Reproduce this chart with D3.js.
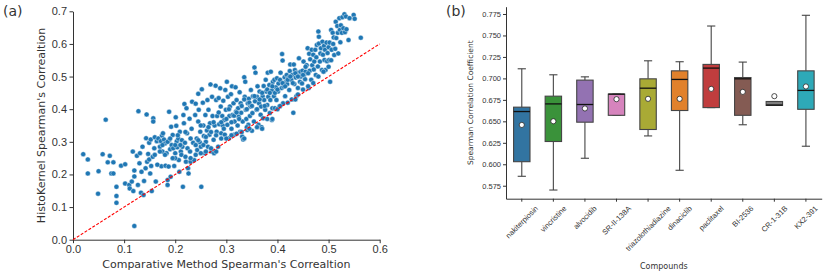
<!DOCTYPE html>
<html>
<head>
<meta charset="utf-8">
<script src="https://cdn.jsdelivr.net/npm/d3@7"></script>
<style>
  body { margin: 0; background: #fff; }
  svg { font-family: "DejaVu Sans", sans-serif; }
</style>
</head>
<body>
<svg id="chart" width="830" height="274"></svg>
<script>
// (a) each pair = [comparative method rho, histokernel rho]
const scatterPoints = [
  [0.020,0.262],[0.029,0.246],[0.029,0.203],[0.050,0.210],[0.049,0.141],[0.058,0.262],[0.064,0.368],[0.068,0.237],
  [0.072,0.257],[0.075,0.203],[0.079,0.203],[0.079,0.237],[0.085,0.162],[0.085,0.134],[0.085,0.113],[0.094,0.227],
  [0.102,0.231],[0.102,0.172],[0.110,0.168],[0.111,0.157],[0.115,0.178],[0.117,0.270],[0.118,0.149],[0.120,0.042],
  [0.120,0.212],[0.120,0.194],[0.125,0.257],[0.128,0.394],[0.127,0.168],[0.130,0.234],[0.131,0.265],[0.133,0.144],
  [0.134,0.208],[0.136,0.285],[0.138,0.137],[0.139,0.180],[0.142,0.219],[0.143,0.311],[0.144,0.384],[0.145,0.239],
  [0.147,0.263],[0.149,0.246],[0.149,0.297],[0.151,0.203],[0.152,0.307],[0.153,0.226],[0.154,0.149],[0.156,0.254],
  [0.157,0.372],[0.157,0.362],[0.159,0.280],[0.160,0.314],[0.162,0.178],[0.164,0.302],[0.167,0.310],[0.170,0.285],
  [0.172,0.302],[0.173,0.225],[0.174,0.319],[0.175,0.270],[0.176,0.326],[0.178,0.307],[0.180,0.295],[0.181,0.227],
  [0.183,0.265],[0.185,0.168],[0.185,0.183],[0.187,0.224],[0.188,0.392],[0.188,0.305],[0.190,0.277],[0.191,0.193],
  [0.192,0.346],[0.193,0.290],[0.195,0.321],[0.196,0.280],[0.198,0.226],[0.200,0.265],[0.201,0.375],[0.202,0.349],
  [0.203,0.302],[0.204,0.283],[0.206,0.310],[0.207,0.244],[0.208,0.208],[0.209,0.331],[0.211,0.270],[0.212,0.260],
  [0.213,0.305],[0.214,0.285],[0.215,0.162],[0.216,0.382],[0.217,0.357],[0.218,0.416],[0.219,0.297],[0.220,0.254],
  [0.221,0.239],[0.222,0.403],[0.223,0.326],[0.224,0.280],[0.225,0.219],[0.226,0.203],[0.228,0.371],[0.229,0.270],
  [0.230,0.239],[0.232,0.340],[0.233,0.423],[0.235,0.297],[0.237,0.244],[0.239,0.382],[0.240,0.417],[0.242,0.310],
  [0.243,0.275],[0.245,0.362],[0.245,0.447],[0.246,0.398],[0.248,0.299],[0.249,0.331],[0.250,0.285],[0.251,0.162],
  [0.252,0.461],[0.254,0.420],[0.255,0.350],[0.256,0.318],[0.258,0.265],[0.259,0.382],[0.260,0.300],[0.262,0.335],
  [0.263,0.428],[0.264,0.285],[0.265,0.398],[0.267,0.322],[0.268,0.357],[0.269,0.476],[0.271,0.270],[0.272,0.438],
  [0.273,0.379],[0.275,0.306],[0.276,0.265],[0.277,0.350],[0.279,0.472],[0.280,0.428],[0.281,0.331],[0.282,0.379],
  [0.284,0.285],[0.285,0.434],[0.286,0.354],[0.288,0.464],[0.289,0.408],[0.290,0.326],[0.292,0.379],[0.293,0.350],
  [0.294,0.426],[0.296,0.367],[0.297,0.322],[0.298,0.459],[0.299,0.398],[0.301,0.484],[0.302,0.352],[0.303,0.438],
  [0.305,0.311],[0.306,0.379],[0.307,0.408],[0.309,0.446],[0.310,0.340],[0.311,0.470],[0.312,0.382],[0.314,0.418],
  [0.315,0.322],[0.316,0.362],[0.318,0.467],[0.319,0.393],[0.320,0.428],[0.322,0.350],[0.323,0.403],[0.324,0.377],
  [0.326,0.452],[0.327,0.331],[0.328,0.418],[0.329,0.389],[0.331,0.316],[0.332,0.362],[0.333,0.307],[0.335,0.498],
  [0.336,0.438],[0.337,0.484],[0.338,0.398],[0.339,0.370],[0.341,0.336],[0.342,0.418],[0.343,0.352],[0.344,0.432],
  [0.346,0.379],[0.347,0.408],[0.348,0.459],[0.350,0.334],[0.351,0.388],[0.352,0.440],[0.354,0.362],[0.355,0.528],
  [0.356,0.424],[0.357,0.512],[0.359,0.398],[0.360,0.438],[0.361,0.470],[0.363,0.352],[0.364,0.418],[0.365,0.454],
  [0.367,0.383],[0.368,0.408],[0.369,0.345],[0.371,0.440],[0.372,0.372],[0.373,0.471],[0.374,0.428],[0.376,0.398],
  [0.377,0.490],[0.378,0.454],[0.380,0.413],[0.381,0.512],[0.382,0.438],[0.384,0.474],[0.385,0.388],[0.386,0.428],
  [0.387,0.515],[0.389,0.457],[0.390,0.403],[0.391,0.484],[0.389,0.367],[0.393,0.440],[0.394,0.490],[0.395,0.403],
  [0.397,0.467],[0.398,0.428],[0.399,0.495],[0.401,0.454],[0.402,0.479],[0.404,0.408],[0.405,0.490],[0.406,0.512],
  [0.408,0.465],[0.409,0.569],[0.410,0.549],[0.411,0.418],[0.412,0.469],[0.414,0.498],[0.415,0.440],[0.417,0.484],
  [0.418,0.505],[0.419,0.477],[0.421,0.495],[0.423,0.459],[0.424,0.517],[0.425,0.537],[0.427,0.490],[0.428,0.430],
  [0.429,0.505],[0.431,0.389],[0.432,0.537],[0.433,0.477],[0.434,0.520],[0.436,0.497],[0.437,0.440],[0.438,0.512],
  [0.440,0.465],[0.441,0.500],[0.442,0.556],[0.444,0.484],[0.445,0.515],[0.446,0.500],[0.448,0.479],[0.449,0.518],
  [0.451,0.546],[0.452,0.505],[0.454,0.492],[0.455,0.515],[0.457,0.535],[0.459,0.587],[0.461,0.465],[0.462,0.570],
  [0.463,0.518],[0.464,0.553],[0.466,0.490],[0.467,0.582],[0.468,0.535],[0.470,0.567],[0.471,0.522],[0.472,0.546],
  [0.474,0.582],[0.475,0.505],[0.476,0.559],[0.477,0.597],[0.479,0.531],[0.480,0.638],[0.481,0.622],[0.481,0.601],
  [0.483,0.546],[0.484,0.571],[0.485,0.587],[0.487,0.520],[0.488,0.607],[0.489,0.567],[0.491,0.594],[0.492,0.551],
  [0.493,0.582],[0.494,0.520],[0.496,0.604],[0.497,0.547],[0.498,0.572],[0.500,0.590],[0.501,0.551],[0.502,0.604],
  [0.503,0.484],[0.505,0.643],[0.506,0.582],[0.508,0.634],[0.509,0.600],[0.510,0.620],[0.511,0.566],[0.513,0.585],
  [0.514,0.668],[0.515,0.618],[0.517,0.655],[0.518,0.634],[0.519,0.571],[0.521,0.679],[0.522,0.643],[0.523,0.605],
  [0.524,0.657],[0.526,0.634],[0.527,0.682],[0.529,0.648],[0.531,0.691],[0.532,0.636],[0.534,0.684],[0.535,0.645],
  [0.539,0.612],[0.541,0.679],[0.549,0.689],[0.551,0.677],[0.563,0.619],
  [0.200,0.250],[0.230,0.250],[0.240,0.260],[0.250,0.265],[0.260,0.270],[0.270,0.280],[0.280,0.270],[0.290,0.310],
  [0.300,0.310],[0.310,0.320],[0.320,0.325],[0.330,0.330],[0.335,0.310],[0.340,0.345],[0.345,0.340],[0.360,0.345],
  [0.370,0.340],[0.380,0.370],[0.390,0.370],[0.400,0.400],[0.405,0.410],[0.420,0.420],[0.435,0.430],[0.440,0.445],
  [0.450,0.460],[0.460,0.470],[0.470,0.480],[0.480,0.500],[0.490,0.515],[0.500,0.530],[0.505,0.550],
  [0.210,0.290],[0.220,0.330],[0.230,0.310],[0.240,0.290],[0.245,0.305],[0.250,0.350],[0.255,0.290],[0.260,0.315],
  [0.265,0.345],[0.270,0.330],[0.275,0.360],[0.280,0.320],[0.285,0.390],[0.290,0.360],[0.295,0.340],[0.300,0.370],
  [0.305,0.400],[0.310,0.360],[0.315,0.380],[0.320,0.390],[0.325,0.370],[0.330,0.410],[0.335,0.430],[0.340,0.400],
  [0.345,0.420],[0.350,0.410],[0.355,0.440],[0.360,0.400],[0.365,0.430],[0.370,0.450],[0.375,0.410],[0.380,0.460],
  [0.385,0.450],[0.390,0.470],[0.395,0.450],[0.400,0.460],[0.410,0.480],[0.415,0.470],[0.420,0.490],[0.425,0.500],
  [0.430,0.480],[0.435,0.510],[0.440,0.500],[0.450,0.505],[0.455,0.530],[0.460,0.510],
  [0.160,0.260],[0.165,0.230],[0.170,0.270],[0.175,0.290],[0.180,0.260],[0.185,0.300],[0.190,0.310],[0.195,0.250],
  [0.200,0.290],[0.205,0.320]
]
const xTicksA = [0, 0.1, 0.2, 0.3, 0.4, 0.5, 0.6]
const yTicksA = [0, 0.1, 0.2, 0.3, 0.4, 0.5, 0.6, 0.7]

// (b) box summaries per compound
const compounds = ['nakiterpiosin', 'vincristine', 'alvocidib', 'SR-II-138A', 'triazolothiadiazine',
  'dinaciclib', 'paclitaxel', 'BI-2536', 'CR-1-31B', 'KX2-391']
const boxColors = ['#3274a1', '#3a923a', '#9372b2', '#d684bd', '#a9aa35',
  '#e1812c', '#c03d3e', '#845b53', '#7f7f7f', '#2ea9b8']
const whiskerLow  = [0.586, 0.570, 0.607, 0.657, 0.633, 0.593, 0.666, 0.646, 0.6685, 0.621]
const q1          = [0.603, 0.6265, 0.649, 0.657, 0.6405, 0.6626, 0.666, 0.657, 0.6685, 0.664]
const medians     = [0.6614, 0.6703, 0.6696, 0.6817, 0.6886, 0.6988, 0.712, 0.6995, 0.669, 0.686]
const q3          = [0.6665, 0.6793, 0.698, 0.6817, 0.6995, 0.7088, 0.7163, 0.701, 0.6731, 0.7088]
const whiskerHigh = [0.7112, 0.7042, 0.7018, 0.6817, 0.7205, 0.7194, 0.761, 0.719, 0.6731, 0.7735]
const means       = [0.6458, 0.6501, 0.665, 0.6758, 0.6762, 0.6762, 0.6878, 0.6843, 0.6793, 0.6906]
const yTicksB = [0.575, 0.6, 0.625, 0.65, 0.675, 0.7, 0.725, 0.75, 0.775]

const svg = d3.select('#chart')
const ink = '#333'

// ---------- panel (a) ----------
const xA = d3.scaleLinear().domain([0, 0.6]).range([73, 379.7])
const yA = d3.scaleLinear().domain([0, 0.7]).range([239.7, 11.3])

svg.append('g')
  .attr('transform', `translate(0,${yA(0)})`)
  .call(d3.axisBottom(xA).tickValues(xTicksA).tickFormat(d3.format('.1f')).tickSize(3.5).tickPadding(2).tickSizeOuter(0))
  .call(g => g.selectAll('text').attr('font-size', 11).attr('fill', ink))
  .call(g => g.selectAll('line,path').attr('stroke', ink))

svg.append('g')
  .attr('transform', `translate(${xA(0)},0)`)
  .call(d3.axisLeft(yA).tickValues(yTicksA).tickFormat(d3.format('.1f')).tickSize(3.5).tickPadding(2.5).tickSizeOuter(0))
  .call(g => g.selectAll('text').attr('font-size', 11).attr('fill', ink))
  .call(g => g.selectAll('line,path').attr('stroke', ink))

svg.append('g').selectAll('circle')
  .data(scatterPoints)
  .join('circle')
  .attr('cx', d => xA(d[0]))
  .attr('cy', d => yA(d[1]))
  .attr('r', 2.5)
  .attr('fill', '#1f77b4')
  .attr('stroke', '#fff')
  .attr('stroke-width', 0.4)

// identity line
svg.append('line')
  .attr('x1', xA(0)).attr('y1', yA(0))
  .attr('x2', xA(0.6)).attr('y2', yA(0.6))
  .attr('stroke', 'red')
  .attr('stroke-width', 1.1)
  .attr('stroke-dasharray', '3,1.6')

svg.append('text')
  .attr('x', (xA(0) + xA(0.6)) / 2).attr('y', 268)
  .attr('text-anchor', 'middle').attr('font-size', 11).attr('fill', ink)
  .text("Comparative Method Spearman's Correaltion")

svg.append('text')
  .attr('transform', `translate(45,${(yA(0) + yA(0.7)) / 2}) rotate(-90)`)
  .attr('text-anchor', 'middle').attr('font-size', 11).attr('fill', ink)
  .text("HistoKernel Spearman's Correaltion")

svg.append('text').attr('x', 3).attr('y', 16).attr('font-size', 14).attr('fill', ink).text('(a)')

// ---------- panel (b) ----------
const xB = d3.scaleBand().domain(compounds).range([506, 821.7])
const yB = d3.scaleLinear().domain([0.5599, 0.7835]).range([198.7, 6.7])
const boxW = xB.bandwidth() * 0.52
const capW = boxW * 0.5
const lineInk = '#454545'

svg.append('g')
  .attr('transform', `translate(${xB.range()[0]},0)`)
  .call(d3.axisLeft(yB).tickValues(yTicksB).tickFormat(d3.format('.3f')).tickSize(3).tickPadding(2).tickSizeOuter(0))
  .call(g => g.selectAll('text').attr('font-size', 7.5).attr('fill', ink))
  .call(g => g.selectAll('line,path').attr('stroke', ink))

const xAxisB = svg.append('g')
  .attr('transform', `translate(0,${yB.range()[0]})`)
  .call(d3.axisBottom(xB).tickSize(3).tickSizeOuter(0))
  .call(g => g.selectAll('line,path').attr('stroke', ink))

// rotated tick labels centred under the tick, like matplotlib rotation=45
xAxisB.selectAll('.tick text').each(function () {
  const t = d3.select(this)
  t.attr('font-size', 7.5).attr('fill', ink).attr('y', null).attr('dy', '0.35em').attr('text-anchor', 'middle')
  const w = this.getComputedTextLength()
  const h = 7.5 * 1.1
  const half = (w + h) * Math.SQRT1_2 / 2
  t.attr('transform', `translate(0,${5.5 + half}) rotate(-45)`)
})

const boxes = svg.append('g').selectAll('g')
  .data(compounds)
  .join('g')
  .attr('transform', d => `translate(${xB(d) + xB.bandwidth() / 2},0)`)

// whiskers
boxes.append('line')
  .attr('y1', (d, i) => yB(whiskerLow[i])).attr('y2', (d, i) => yB(q1[i]))
  .attr('stroke', lineInk).attr('stroke-width', 1.1)
boxes.append('line')
  .attr('y1', (d, i) => yB(q3[i])).attr('y2', (d, i) => yB(whiskerHigh[i]))
  .attr('stroke', lineInk).attr('stroke-width', 1.1)
// caps
boxes.append('line')
  .attr('x1', -capW / 2).attr('x2', capW / 2)
  .attr('y1', (d, i) => yB(whiskerLow[i])).attr('y2', (d, i) => yB(whiskerLow[i]))
  .attr('stroke', lineInk).attr('stroke-width', 1.1)
boxes.append('line')
  .attr('x1', -capW / 2).attr('x2', capW / 2)
  .attr('y1', (d, i) => yB(whiskerHigh[i])).attr('y2', (d, i) => yB(whiskerHigh[i]))
  .attr('stroke', lineInk).attr('stroke-width', 1.1)

boxes.append('rect')
  .attr('x', -boxW / 2).attr('width', boxW)
  .attr('y', (d, i) => yB(q3[i]))
  .attr('height', (d, i) => Math.max(yB(q1[i]) - yB(q3[i]), 1))
  .attr('fill', (d, i) => boxColors[i])
  .attr('stroke', lineInk).attr('stroke-width', 1.1)

boxes.append('line')
  .attr('x1', -boxW / 2).attr('x2', boxW / 2)
  .attr('y1', (d, i) => yB(medians[i])).attr('y2', (d, i) => yB(medians[i]))
  .attr('stroke', '#111').attr('stroke-width', 1.3)

boxes.append('circle')
  .attr('cy', (d, i) => yB(means[i]))
  .attr('r', 2.6)
  .attr('fill', '#fff')
  .attr('stroke', '#222').attr('stroke-width', 0.8)

svg.append('text')
  .attr('x', (xB.range()[0] + xB.range()[1]) / 2).attr('y', 269)
  .attr('text-anchor', 'middle').attr('font-size', 8).attr('fill', ink)
  .text('Compounds')

svg.append('text')
  .attr('transform', `translate(473,${(yB.range()[0] + yB.range()[1]) / 2}) rotate(-90)`)
  .attr('text-anchor', 'middle').attr('font-size', 7.5).attr('fill', ink)
  .text('Spearman Correlation Coefficient')

svg.append('text').attr('x', 446).attr('y', 16).attr('font-size', 14).attr('fill', ink).text('(b)')
</script>
</body>
</html>
